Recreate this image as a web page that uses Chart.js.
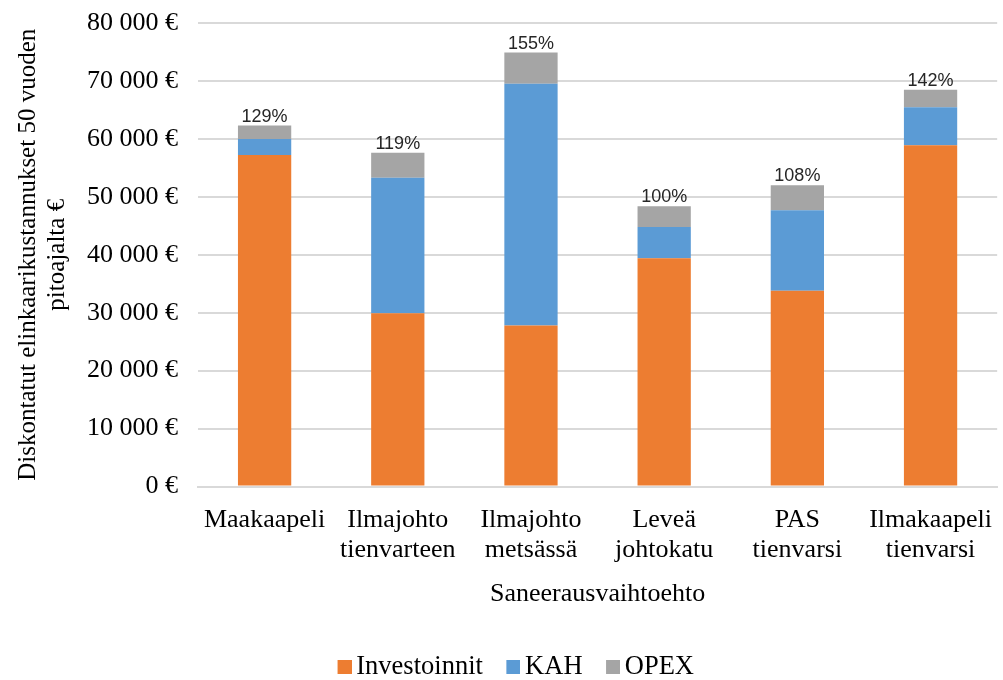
<!DOCTYPE html>
<html>
<head>
<meta charset="utf-8">
<script src="https://cdn.jsdelivr.net/npm/chart.js@4.4.1/dist/chart.umd.min.js"></script>
<style>
  html, body { margin: 0; padding: 0; background: #fff; }
  #wrap { width: 1003px; height: 680px; }
</style>
</head>
<body>
<div id="wrap"><canvas id="chart"></canvas></div>
<script>
// Data
const categories = [
    ['Maakaapeli'],
    ['Ilmajohto', 'tienvarteen'],
    ['Ilmajohto', 'metsässä'],
    ['Leveä', 'johtokatu'],
    ['PAS', 'tienvarsi'],
    ['Ilmakaapeli', 'tienvarsi']
];
const investoinnit = [57200, 29900, 27800, 39400, 33800, 58900];
const kah = [2800, 23400, 41700, 5400, 13900, 6550];
const opex = [2300, 4300, 5400, 3550, 4300, 3050];
const totalLabels = ['129%', '119%', '155%', '100%', '108%', '142%'];

const colors = {
    inv: '#ED7D31',
    kah: '#5B9BD5',
    opex: '#A5A5A5'
};

const serif = "'Liberation Serif', 'Times New Roman', serif";
const sans = "'Liberation Sans', Arial, sans-serif";

// legend marker: 14px square on the right side of a wider transparent image,
// so it sits close to its text like in Excel
function squareMarker(color) {
    const c = document.createElement('canvas');
    c.width = 38;
    c.height = 14;
    const g = c.getContext('2d');
    g.fillStyle = color;
    g.fillRect(24, 0, 14, 14);
    return c;
}
const markers = [squareMarker(colors.inv), squareMarker(colors.kah), squareMarker(colors.opex)];

// draws the percent labels above each stacked bar
const topLabels = {
    id: 'topLabels',
    afterDatasetsDraw(chart) {
        const ctx = chart.ctx;
        const meta = chart.getDatasetMeta(2);
        ctx.save();
        ctx.font = '18px ' + sans;
        ctx.fillStyle = '#262626';
        ctx.textAlign = 'center';
        ctx.textBaseline = 'bottom';
        meta.data.forEach((bar, i) => {
            ctx.fillText(totalLabels[i], bar.x, bar.y);
        });
        ctx.restore();
    }
};

new Chart(document.getElementById('chart').getContext('2d'), {
    type: 'bar',
    data: {
        labels: categories,
        datasets: [
            { label: 'Investoinnit', data: investoinnit, backgroundColor: colors.inv },
            { label: 'KAH', data: kah, backgroundColor: colors.kah },
            { label: 'OPEX', data: opex, backgroundColor: colors.opex }
        ]
    },
    options: {
        responsive: true,
        maintainAspectRatio: false,
        animation: false,
        datasets: {
            bar: { categoryPercentage: 1, barPercentage: 0.4 }
        },
        layout: { padding: { top: 23, right: 1, left: 14, bottom: -10 } },
        scales: {
            x: {
                stacked: true,
                grid: { display: false },
                border: { color: '#d9d9d9', width: 2 },
                ticks: {
                    color: '#000',
                    font: { family: serif, size: 26, lineHeight: 1.15 },
                    padding: 11,
                    maxRotation: 0,
                    autoSkip: false
                },
                title: {
                    display: true,
                    text: 'Saneerausvaihtoehto',
                    color: '#000',
                    font: { family: serif, size: 26 },
                    padding: { top: 2, bottom: 36 }
                }
            },
            y: {
                stacked: true,
                min: 0,
                max: 80000,
                afterFit(scale) { scale.width = 184; },
                // invisible tick marks push labels left without adding top padding
                grid: { color: '#d9d9d9', lineWidth: 2, drawTicks: true, tickLength: 20, tickColor: 'rgba(0,0,0,0)' },
                border: { display: false },
                ticks: {
                    stepSize: 10000,
                    color: '#000',
                    padding: 0,
                    font: { family: serif, size: 26 },
                    callback: (v) => v.toLocaleString('fi-FI').replace(/\s/g, ' ') + ' €'
                },
                title: {
                    display: true,
                    text: ['Diskontatut elinkaarikustannukset 50 vuoden', 'pitoajalta €'],
                    color: '#000',
                    font: { family: serif, size: 25, lineHeight: 1.15 },
                    padding: { top: 0, bottom: 4 }
                }
            }
        },
        plugins: {
            legend: {
                position: 'bottom',
                labels: {
                    color: '#000',
                    font: { family: serif, size: 26.5 },
                    usePointStyle: true,
                    boxWidth: 21,
                    boxHeight: 14,
                    padding: 8,
                    generateLabels(chart) {
                        const items = Chart.defaults.plugins.legend.labels.generateLabels(chart);
                        items.forEach((it, i) => { it.pointStyle = markers[i]; });
                        return items;
                    }
                }
            },
            tooltip: { enabled: false }
        }
    },
    plugins: [topLabels]
});
</script>
</body>
</html>
